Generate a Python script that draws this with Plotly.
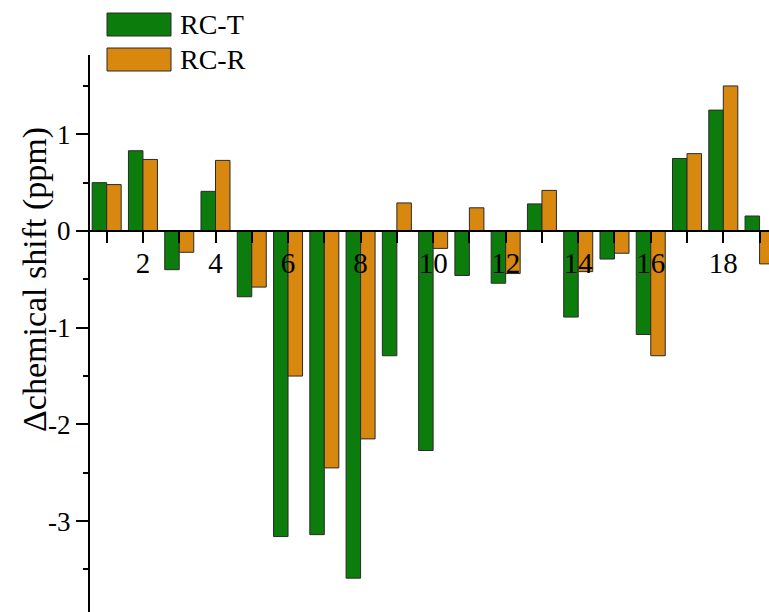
import plotly.graph_objects as go

# ---- data ----
residues = list(range(1, 20))
rc_t = [0.50, 0.83, -0.40, 0.41, -0.68, -3.16, -3.14, -3.59, -1.29, -2.27,
        -0.46, -0.54, 0.28, -0.89, -0.29, -1.07, 0.75, 1.25, 0.155]
rc_r = [0.48, 0.74, -0.22, 0.73, -0.58, -1.50, -2.45, -2.15, 0.29, -0.18,
        0.24, -0.44, 0.42, -0.42, -0.23, -1.29, 0.80, 1.50, -0.34]
series_names = ["RC-T", "RC-R"]
colors = ["#0c7c0c", "#d8870f"]
x_ticktext = [str(v) if v % 2 == 0 else "" for v in residues]
y_tickvals = [-3, -2, -1, 0, 1]
y_ticktext = ["-3", "-2", "-1", "0", "1"]
y_title = "Δchemical shift (ppm)"

# ---- layout constants ----
W, H = 769, 612
L, R, T, B = 90, 0, 55, 0
PW, PH = W - L - R, H - T - B
YMIN, YMAX = -3.94, 1.82
XMIN, XMAX = 0.54, 19.26
FONT = "Liberation Serif, Times New Roman, serif"


def px_x(p):
    return (p - L) / PW


def px_y(p):
    return (H - B - p) / PH


fig = go.Figure()
for name, vals, col in zip(series_names, [rc_t, rc_r], colors):
    fig.add_trace(go.Bar(x=residues, y=vals, name=name, marker_color=col,
                         marker_line_color="#2a2a2a", marker_line_width=1,
                         showlegend=False, cliponaxis=True))

zero_pos = (0 - YMIN) / (YMAX - YMIN)

fig.update_layout(
    width=W, height=H,
    margin=dict(l=L, r=R, t=T, b=B, pad=0, autoexpand=False),
    paper_bgcolor="white", plot_bgcolor="white",
    barmode="group", bargap=0.2, bargroupgap=0,
    font=dict(family=FONT, color="black", size=26),
    xaxis=dict(range=[XMIN, XMAX], tickvals=residues, ticktext=x_ticktext,
               showgrid=False, zeroline=False, showline=True, linecolor="black",
               linewidth=2, ticks="outside", ticklen=11, tickwidth=2,
               tickcolor="black", anchor="free", position=zero_pos,
               automargin=False,
               tickfont=dict(size=29, family=FONT), ticklabelstandoff=-5),
    yaxis=dict(range=[YMIN, YMAX], tickvals=y_tickvals, ticktext=y_ticktext,
               showgrid=False, zeroline=False, showline=True, linecolor="black",
               linewidth=2, ticks="outside", ticklen=12, tickwidth=2,
               automargin=False, ticklabelstandoff=0,
               tickcolor="black", tickfont=dict(size=27, family=FONT),
               minor=dict(dtick=0.5, tick0=0, ticks="outside", ticklen=5,
                          tickwidth=2, tickcolor="black")),
)

# legend drawn as layout shapes + text
legend_rows = [(13, 36), (48, 71)]
for (y0, y1), col, name in zip(legend_rows, colors, series_names):
    fig.add_shape(type="rect", xref="paper", yref="paper",
                  x0=px_x(107), x1=px_x(171), y0=px_y(y1), y1=px_y(y0),
                  fillcolor=col, line=dict(color="#2a2a2a", width=1))
    fig.add_annotation(xref="paper", yref="paper", x=px_x(178),
                       y=px_y((y0 + y1) / 2), text=name, showarrow=False,
                       xanchor="left", yanchor="middle",
                       font=dict(size=28, family=FONT, color="black"))

fig.add_annotation(xref="paper", yref="paper", x=px_x(35), y=px_y(280),
                   text=y_title, textangle=-90, showarrow=False,
                   xanchor="center", yanchor="middle",
                   font=dict(size=34, family=FONT, color="black"))

fig.write_html("out.html", config={"displayModeBar": False},
               post_script="document.body.style.margin='0';"
                           "document.body.style.padding='0';")
